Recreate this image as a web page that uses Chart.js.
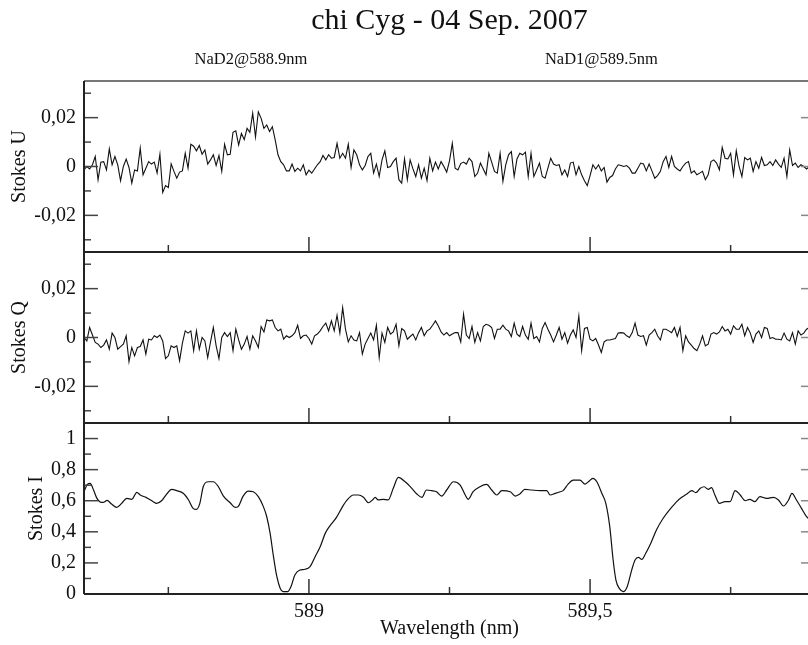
<!DOCTYPE html>
<html>
<head>
<meta charset="utf-8">
<title>chi Cyg - 04 Sep. 2007</title>
<script src="https://cdn.jsdelivr.net/npm/chart.js@4/dist/chart.umd.min.js"></script>
<style>
    html, body { margin: 0; padding: 0; background: #fff; overflow: hidden; }
    #wrap { width: 815px; height: 645px; }
</style>
</head>
<body>
<div id="wrap"><canvas id="stokes-chart" width="815" height="645"></canvas></div>
<script>
const titleText = "chi Cyg - 04 Sep. 2007";
const lineNames = ["NaD2@588.9nm", "NaD1@589.5nm"];
const lineCenters = [588.897, 589.52];

const wavelengthMin = 588.6;
const wavelengthMax = 589.9;
const wavelengthTicks = [588.75, 589, 589.25, 589.5, 589.75];
const polTicks = [-0.03, -0.02, -0.01, 0, 0.01, 0.02, 0.03];
const intensityTicks = [0, 0.1, 0.2, 0.3, 0.4, 0.5, 0.6, 0.7, 0.8, 0.9, 1, 1.1];

// polarimetry is sampled every 0.005 nm starting at 588.6 nm
const polStart = 588.6;
const polStep = 0.005;

const stokesU = [
    -0.0014, 0.0000, -0.0010, 0.0007, 0.0041, -0.0054, 0.0018, 0.0020, -0.0014, 0.0072,
    0.0007, 0.0041, 0.0007, -0.0058, 0.0000, 0.0030, -0.0004, -0.0068, -0.0014, -0.0018,
    0.0075, -0.0034, -0.0007, 0.0020, 0.0010, 0.0018, -0.0027, 0.0050, -0.0106, -0.0078,
    -0.0086, 0.0011, -0.0020, -0.0048, -0.0023, -0.0018, 0.0054, -0.0007, 0.0091, 0.0083,
    0.0064, 0.0086, 0.0050, 0.0068, 0.0010, 0.0027, 0.0048, 0.0004, 0.0045, -0.0020,
    0.0091, 0.0048, 0.0050, 0.0140, 0.0146, 0.0088, 0.0135, 0.0110, 0.0156, 0.0140,
    0.0218, 0.0121, 0.0224, 0.0197, 0.0156, 0.0170, 0.0143, 0.0163, 0.0109, 0.0048,
    0.0020, 0.0007, -0.0018, -0.0018, 0.0010, -0.0020, -0.0007, -0.0018, 0.0007, -0.0034,
    -0.0015, -0.0027, -0.0010, 0.0007, 0.0020, 0.0045, 0.0027, 0.0048, 0.0034, 0.0037,
    0.0095, 0.0034, 0.0054, 0.0034, 0.0091, -0.0004, 0.0068, 0.0048, 0.0007, -0.0014,
    0.0004, 0.0041, 0.0054, -0.0027, 0.0010, -0.0041, 0.0027, 0.0064, -0.0004, 0.0000,
    0.0020, 0.0034, -0.0054, -0.0068, 0.0031, -0.0054, 0.0027, -0.0010, -0.0041, 0.0007,
    -0.0048, -0.0007, -0.0058, 0.0034, -0.0018, 0.0018, -0.0010, 0.0020, 0.0000, -0.0023,
    0.0023, 0.0095, -0.0007, -0.0014, 0.0012, 0.0018, 0.0010, 0.0034, 0.0020, -0.0041,
    -0.0027, 0.0014, -0.0010, -0.0034, 0.0054, 0.0018, -0.0020, -0.0027, 0.0054, -0.0061,
    0.0007, 0.0048, 0.0061, -0.0041, 0.0031, 0.0054, 0.0048, 0.0059, -0.0041, 0.0054,
    -0.0041, -0.0014, 0.0014, -0.0041, -0.0048, -0.0007, 0.0034, 0.0010, 0.0004, 0.0007,
    -0.0034, -0.0014, -0.0041, 0.0014, 0.0018, -0.0034, 0.0000, -0.0034, -0.0058, -0.0078,
    -0.0037, 0.0007, -0.0010, 0.0007, -0.0018, -0.0004, -0.0064, -0.0045, -0.0037, -0.0010,
    0.0007, 0.0004, 0.0000, 0.0004, -0.0007, -0.0027, -0.0027, -0.0007, 0.0014, 0.0010,
    -0.0018, 0.0010, -0.0018, -0.0048, -0.0037, -0.0020, 0.0020, 0.0041, -0.0004, 0.0041,
    0.0000, -0.0010, -0.0018, 0.0000, 0.0014, 0.0020, -0.0027, -0.0018, -0.0034, -0.0027,
    -0.0020, -0.0054, -0.0034, 0.0020, 0.0027, 0.0014, -0.0014, 0.0078, 0.0034, 0.0031,
    0.0054, -0.0034, 0.0064, 0.0000, -0.0041, 0.0037, 0.0027, 0.0034, -0.0020, 0.0020,
    -0.0007, 0.0037, 0.0004, 0.0007, 0.0020, 0.0004, 0.0027, 0.0010, -0.0004, 0.0034,
    -0.0041, 0.0068, 0.0004, 0.0014, -0.0004, 0.0007, 0.0000, -0.0010, 0.0000, 0.0010, -0.0005
];

const stokesQ = [
    0.0000, -0.0014, 0.0041, 0.0010, -0.0020, -0.0027, -0.0041, -0.0031, -0.0010, -0.0048,
    0.0018, 0.0000, -0.0048, -0.0037, -0.0027, 0.0007, -0.0099, -0.0041, -0.0075, -0.0041,
    -0.0037, -0.0010, -0.0068, -0.0007, -0.0010, 0.0007, 0.0000, 0.0010, -0.0014, -0.0086,
    -0.0075, -0.0034, -0.0041, -0.0034, -0.0095, -0.0023, 0.0027, 0.0018, 0.0027, -0.0054,
    0.0027, -0.0048, 0.0000, -0.0014, -0.0082, -0.0018, 0.0041, -0.0034, -0.0086, 0.0000,
    0.0020, 0.0004, 0.0020, -0.0054, 0.0034, -0.0010, -0.0048, -0.0027, 0.0004, -0.0048,
    0.0007, -0.0014, -0.0041, 0.0045, 0.0023, 0.0072, 0.0068, 0.0072, 0.0041, 0.0027,
    0.0034, -0.0007, 0.0007, 0.0000, 0.0007, 0.0020, 0.0050, -0.0004, 0.0007, 0.0010,
    -0.0004, -0.0027, 0.0007, 0.0014, 0.0027, 0.0045, 0.0059, 0.0027, 0.0068, 0.0027,
    0.0091, 0.0018, 0.0122, 0.0034, -0.0018, 0.0007, -0.0010, -0.0014, 0.0020, -0.0068,
    -0.0027, -0.0004, 0.0018, -0.0010, 0.0050, -0.0082, 0.0018, -0.0020, 0.0041, 0.0014,
    0.0023, 0.0054, -0.0034, 0.0037, 0.0027, -0.0007, 0.0004, 0.0014, -0.0010, 0.0020,
    0.0041, 0.0007, 0.0027, 0.0034, 0.0050, 0.0068, 0.0048, 0.0023, 0.0010, 0.0020,
    0.0007, 0.0014, 0.0020, 0.0020, -0.0018, 0.0095, 0.0010, -0.0004, 0.0045, -0.0020,
    0.0020, -0.0014, 0.0045, 0.0054, 0.0050, 0.0041, -0.0004, 0.0034, 0.0034, 0.0050,
    0.0034, 0.0027, 0.0004, 0.0059, 0.0014, 0.0004, 0.0045, 0.0010, -0.0007, 0.0059,
    -0.0004, 0.0004, -0.0018, 0.0037, 0.0061, 0.0034, 0.0010, -0.0018, 0.0010, 0.0041,
    -0.0007, 0.0020, -0.0023, 0.0010, 0.0031, 0.0000, 0.0088, -0.0054, 0.0037, 0.0041,
    -0.0007, -0.0014, -0.0004, -0.0031, -0.0061, -0.0018, -0.0010, -0.0010, -0.0007, -0.0004,
    0.0018, 0.0020, 0.0018, 0.0007, 0.0000, 0.0020, 0.0059, 0.0010, 0.0004, 0.0007,
    -0.0031, 0.0010, 0.0020, 0.0034, 0.0007, -0.0010, 0.0034, 0.0034, 0.0027, 0.0020,
    0.0041, 0.0004, 0.0041, -0.0054, 0.0007, -0.0018, -0.0031, -0.0045, -0.0054, -0.0027,
    0.0007, -0.0034, -0.0027, 0.0014, 0.0020, 0.0014, 0.0023, 0.0045, 0.0027, 0.0034,
    0.0014, 0.0048, 0.0034, 0.0034, 0.0054, 0.0007, 0.0041, 0.0018, -0.0020, 0.0014,
    0.0027, 0.0000, 0.0041, 0.0037, -0.0004, 0.0000, -0.0007, -0.0007, -0.0010, 0.0018,
    -0.0007, -0.0014, 0.0020, -0.0027, 0.0027, 0.0010, 0.0018, 0.0034, 0.0041, 0.0030, 0.0020
];

const intensityWavelengths = [
    588.600, 588.606, 588.611, 588.617, 588.623, 588.628, 588.634, 588.641, 588.649, 588.658,
    588.667, 588.676, 588.685, 588.694, 588.700, 588.711, 588.723, 588.729, 588.738, 588.747,
    588.756, 588.765, 588.777, 588.786, 588.794, 588.800, 588.806, 588.812, 588.821, 588.830,
    588.839, 588.848, 588.860, 588.869, 588.874, 588.883, 588.892, 588.901, 588.910, 588.919,
    588.925, 588.931, 588.937, 588.943, 588.949, 588.954, 588.962, 588.968, 588.975, 588.984,
    588.993, 589.002, 589.011, 589.020, 589.029, 589.037, 589.049, 589.058, 589.067, 589.079,
    589.088, 589.097, 589.106, 589.113, 589.118, 589.123, 589.132, 589.141, 589.150, 589.159,
    589.171, 589.183, 589.192, 589.201, 589.209, 589.218, 589.227, 589.236, 589.245, 589.257,
    589.269, 589.278, 589.283, 589.292, 589.304, 589.316, 589.325, 589.334, 589.343, 589.358,
    589.367, 589.375, 589.384, 589.396, 589.411, 589.423, 589.429, 589.438, 589.447, 589.452,
    589.461, 589.470, 589.482, 589.491, 589.497, 589.505, 589.512, 589.521, 589.528, 589.535,
    589.541, 589.546, 589.552, 589.559, 589.566, 589.574, 589.580, 589.586, 589.592, 589.599,
    589.608, 589.618, 589.630, 589.642, 589.654, 589.663, 589.672, 589.681, 589.688, 589.696,
    589.703, 589.710, 589.716, 589.722, 589.730, 589.740, 589.749, 589.758, 589.767, 589.776,
    589.784, 589.793, 589.802, 589.814, 589.826, 589.835, 589.844, 589.853, 589.859, 589.867,
    589.876, 589.885, 589.900
];

const stokesI = [
    0.659, 0.705, 0.712, 0.669, 0.615, 0.594, 0.589, 0.602, 0.579, 0.557,
    0.583, 0.615, 0.609, 0.654, 0.637, 0.620, 0.594, 0.583, 0.600, 0.643,
    0.673, 0.665, 0.647, 0.605, 0.551, 0.544, 0.583, 0.690, 0.722, 0.722,
    0.690, 0.630, 0.587, 0.557, 0.562, 0.630, 0.662, 0.658, 0.626, 0.562,
    0.497, 0.390, 0.240, 0.111, 0.036, 0.015, 0.015, 0.047, 0.122, 0.154,
    0.159, 0.176, 0.240, 0.304, 0.390, 0.437, 0.493, 0.551, 0.600, 0.637,
    0.637, 0.622, 0.587, 0.605, 0.622, 0.605, 0.609, 0.605, 0.680, 0.750,
    0.722, 0.680, 0.643, 0.622, 0.669, 0.665, 0.658, 0.630, 0.669, 0.722,
    0.701, 0.637, 0.609, 0.658, 0.690, 0.705, 0.669, 0.637, 0.665, 0.658,
    0.630, 0.643, 0.673, 0.669, 0.665, 0.665, 0.637, 0.647, 0.658, 0.665,
    0.707, 0.733, 0.733, 0.707, 0.722, 0.744, 0.722, 0.647, 0.583, 0.433,
    0.219, 0.090, 0.036, 0.015, 0.047, 0.154, 0.219, 0.236, 0.223, 0.262,
    0.326, 0.412, 0.487, 0.544, 0.594, 0.622, 0.643, 0.665, 0.652, 0.680,
    0.690, 0.673, 0.684, 0.637, 0.583, 0.594, 0.594, 0.665, 0.637, 0.600,
    0.609, 0.594, 0.626, 0.615, 0.622, 0.605, 0.566, 0.605, 0.647, 0.605,
    0.551, 0.497, 0.450
];

const serif = "'Liberation Serif', 'Times New Roman', serif";
const ink = "#111";

const isMultiple = (v, step) => Math.abs(v / step - Math.round(v / step)) < 1e-6;
const commaNumber = (v, digits) => String(+v.toFixed(digits)).replace('.', ',');

const polPoints = (values) => values.map((v, i) => ({
    'x': +(polStart + i * polStep).toFixed(3),
    'y': v
}));

const intensityPoints = stokesI.map((v, i) => ({'x': intensityWavelengths[i], 'y': v}));

// major tick step for each panel, used for tick length and labels
const panelMajor = {yU: 0.02, yQ: 0.02, yI: 0.2};

const inwardTicks = {
    id: 'inwardTicks',
    afterDraw(chart) {
        const {ctx, chartArea} = chart;
        const xScale = chart.scales.x;
        const line = (x1, y1, x2, y2) => {
            ctx.beginPath();
            ctx.moveTo(x1, y1);
            ctx.lineTo(x2, y2);
            ctx.stroke();
        };
        ctx.save();
        ctx.lineWidth = 1.5;
        Object.keys(panelMajor).forEach(id => {
            const scale = chart.scales[id];
            scale.ticks.forEach(tick => {
                const py = scale.getPixelForValue(tick.value);
                const len = isMultiple(tick.value, panelMajor[id]) ? 14 : 7;
                ctx.strokeStyle = "#444";
                line(chartArea.left, py, chartArea.left + len, py);
                ctx.strokeStyle = "#888";
                line(chartArea.right, py, chartArea.right - len, py);
            });
            xScale.ticks.forEach(tick => {
                const px = xScale.getPixelForValue(tick.value);
                const len = isMultiple(tick.value, 0.5) ? 15 : 7;
                ctx.strokeStyle = "#333";
                line(px, scale.bottom, px, scale.bottom - len);
            });
        });

        ctx.lineWidth = 2;
        ctx.strokeStyle = "#777";
        line(chartArea.left, chartArea.top, chartArea.right, chartArea.top);
        ctx.strokeStyle = "#222";
        line(chartArea.left, chartArea.top, chartArea.left, chartArea.bottom);
        ['yU', 'yQ', 'yI'].forEach(id => {
            const scale = chart.scales[id];
            line(chartArea.left, scale.bottom, chartArea.right, scale.bottom);
        });
        ctx.strokeStyle = "#888";
        line(chartArea.right, chartArea.top, chartArea.right, chartArea.bottom);
        ctx.restore();
    }
};

const panelAxis = (id, text, min, max, tickValues, weight, titlePad, digits) => ({
    type: 'linear',
    position: 'left',
    stack: 'panels',
    stackWeight: 1,
    weight: weight,
    min: min,
    max: max,
    grid: {display: false, drawTicks: false},
    border: {display: false},
    afterFit: (scale) => { scale.width = 84; },
    afterBuildTicks: (scale) => {
        scale.ticks = tickValues.map(v => ({value: v}));
    },
    ticks: {
        autoSkip: false,
        padding: 8,
        color: ink,
        font: {family: serif, size: 20},
        callback: (v) => isMultiple(v, panelMajor[id]) ? commaNumber(v, digits) : ''
    },
    title: {
        display: true,
        text: text,
        color: ink,
        font: {family: serif, size: 20},
        padding: {top: titlePad, bottom: 0}
    }
});

new Chart(document.getElementById("stokes-chart"), {
    type: 'line',
    data: {
        datasets: [
            {
                label: "Stokes U",
                yAxisID: 'yU',
                borderColor: "#111",
                borderWidth: 1.1,
                pointRadius: 0,
                data: polPoints(stokesU)
            },
            {
                label: "Stokes Q",
                yAxisID: 'yQ',
                borderColor: "#111",
                borderWidth: 1.1,
                pointRadius: 0,
                data: polPoints(stokesQ)
            },
            {
                label: "Stokes I",
                yAxisID: 'yI',
                borderColor: "#111",
                borderWidth: 1.2,
                pointRadius: 0,
                cubicInterpolationMode: 'monotone',
                data: intensityPoints
            }
        ]
    },
    options: {
        responsive: false,
        animation: false,
        layout: {padding: 0},
        plugins: {
            legend: {display: false},
            tooltip: {enabled: false},
            title: {
                display: true,
                text: titleText,
                fullSize: false,
                color: ink,
                font: {family: serif, size: 30, weight: 'normal'},
                padding: {top: 3, bottom: 5}
            }
        },
        scales: {
            x: {
                type: 'linear',
                position: 'bottom',
                min: wavelengthMin,
                max: wavelengthMax,
                grid: {display: false, drawTicks: false},
                border: {display: false},
                afterFit: (scale) => { scale.height = 51; },
                afterBuildTicks: (scale) => {
                    scale.ticks = wavelengthTicks.map(v => ({value: v}));
                },
                ticks: {
                    autoSkip: false,
                    maxRotation: 0,
                    padding: 6,
                    color: ink,
                    font: {family: serif, size: 20},
                    callback: (v) => isMultiple(v, 0.5) ? commaNumber(v, 2) : ''
                },
                title: {
                    display: true,
                    text: "Wavelength (nm)",
                    color: ink,
                    font: {family: serif, size: 20},
                    padding: {top: 0, bottom: 4}
                }
            },
            lines: {
                type: 'linear',
                position: 'top',
                min: wavelengthMin,
                max: wavelengthMax,
                grid: {display: false, drawTicks: false},
                border: {display: false},
                afterFit: (scale) => { scale.height = 81 - 44; },
                afterBuildTicks: (scale) => {
                    scale.ticks = lineCenters.map(v => ({value: v}));
                },
                ticks: {
                    autoSkip: false,
                    maxRotation: 0,
                    padding: 11,
                    color: ink,
                    font: {family: serif, size: 16.5},
                    callback: (v, index) => lineNames[index]
                }
            },
            yU: panelAxis('yU', "Stokes U", -0.035, 0.035, polTicks, 3, 8, 2),
            yQ: panelAxis('yQ', "Stokes Q", -0.035, 0.035, polTicks, 2, 8, 2),
            yI: panelAxis('yI', "Stokes I", 0, 1.1, intensityTicks, 1, 25, 1)
        }
    },
    plugins: [inwardTicks]
});
</script>
</body>
</html>
